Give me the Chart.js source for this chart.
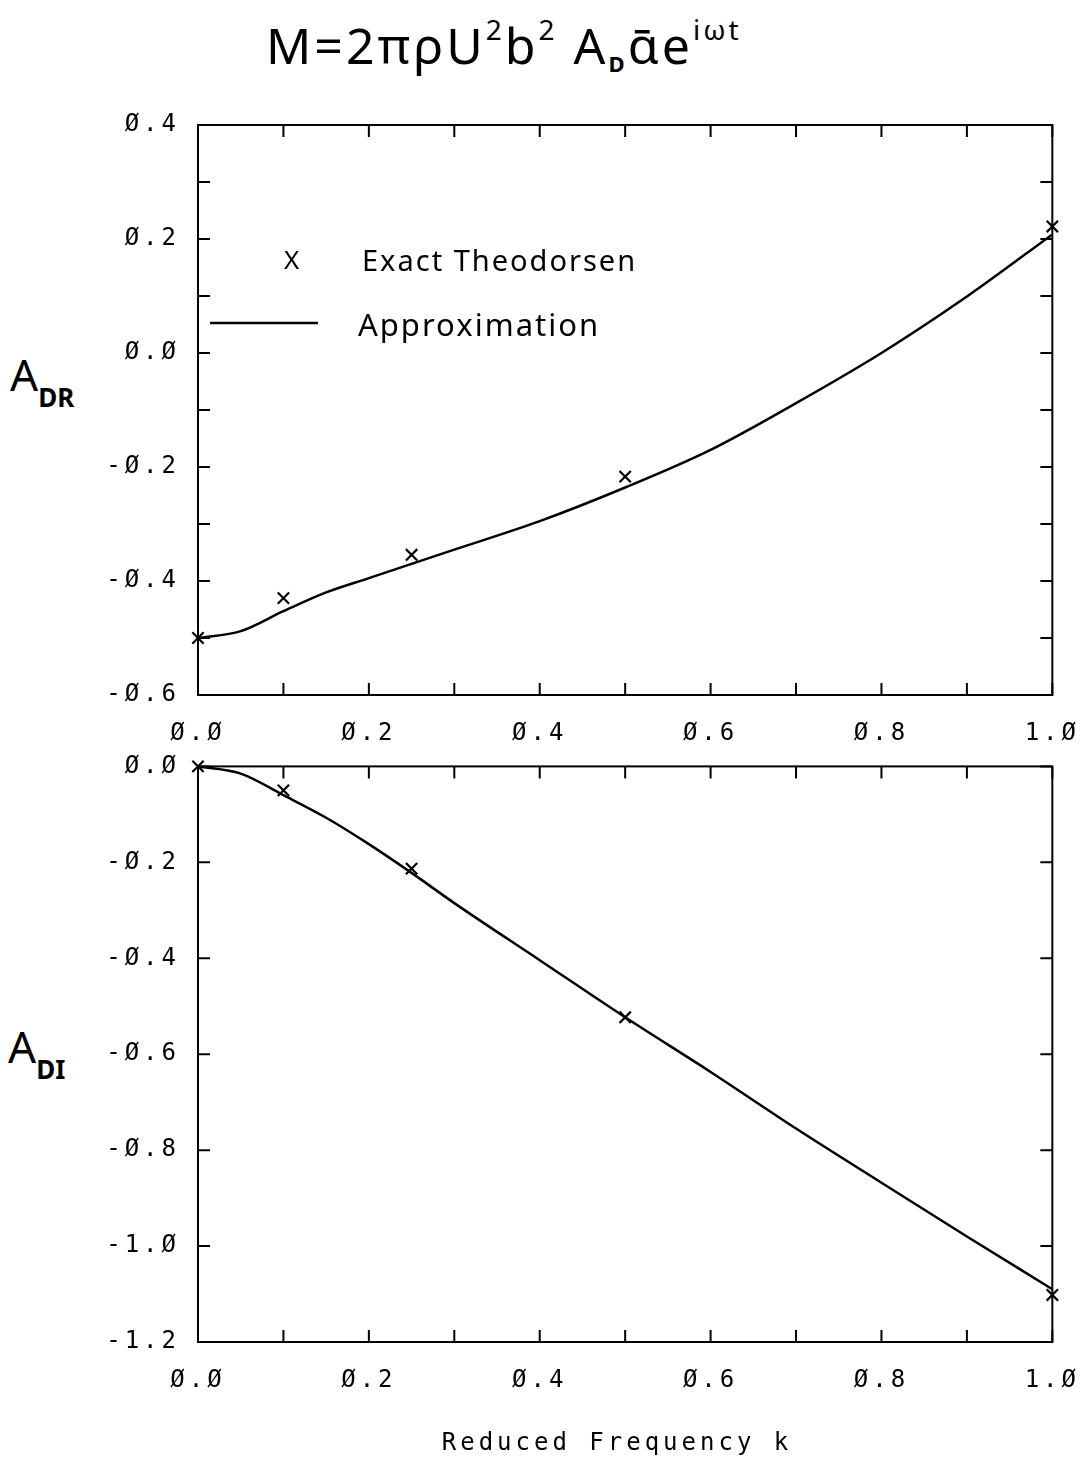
<!DOCTYPE html>
<html>
<head>
<meta charset="utf-8">
<script src="https://cdn.jsdelivr.net/npm/chart.js@4/dist/chart.umd.min.js"></script>
<style>
  body { margin: 0; background: #fff; }
  #page { position: relative; width: 1092px; height: 1463px; overflow: hidden; background: #fff; }
  canvas { position: absolute; left: 0; }
  .hand { position: absolute; font-family: "Noto Sans", sans-serif; color: #000; white-space: nowrap; }
  #title { left: 266px; top: 10px; font-size: 50px; letter-spacing: 3px; }
  #title sup { font-size: 28px; vertical-align: 24px; }
  #title sub { font-size: 22px; font-weight: bold; vertical-align: -8px; }
  .ylab { font-size: 44px; }
  .ylab sub { font-size: 26px; font-weight: bold; vertical-align: -16px; }
</style>
</head>
<body>
<div id="page">
  <div id="title" class="hand">M=2πρU<sup>2</sup>b<sup>2</sup> A<sub>D</sub>ᾱe<sup>iωt</sup></div>
  <div class="hand ylab" style="left:10px; top:344px;">A<sub>DR</sub></div>
  <div class="hand ylab" style="left:8px; top:1016px;">A<sub>DI</sub></div>
  <canvas id="topChart" width="1098" height="748" style="top:0px"></canvas>
  <canvas id="botChart" width="1098" height="729" style="top:734px"></canvas>
</div>
<script>
// reduced frequency k of the exact Theodorsen points
const kExact = [0, 0.1, 0.25, 0.5, 1.0];
const adrExact = [-0.5, -0.43, -0.354, -0.217, 0.222];
const adiExact = [0, -0.05, -0.213, -0.523, -1.102];

// approximation curve
const kApprox = [0, 0.05, 0.1, 0.15, 0.2, 0.25, 0.3, 0.4, 0.5, 0.6, 0.7, 0.8, 0.9, 1.0];
const adrApprox = [-0.5, -0.488, -0.453, -0.42, -0.395, -0.37, -0.345, -0.295, -0.236, -0.17, -0.088, 0.0, 0.099, 0.208];
const adiApprox = [0, -0.015, -0.06, -0.107, -0.162, -0.222, -0.285, -0.404, -0.523, -0.637, -0.755, -0.868, -0.98, -1.09];

const legendLabels = ["Exact Theodorsen", "Approximation"];
const xAxisTitle = "Reduced Frequency k";

const monoFont = "'DejaVu Sans Mono', monospace";

function plotterLabel(v) {
    return v.toFixed(1).replace(/0/g, "Ø");
}

function pairs(xs, ys) {
    return xs.map((x, i) => ({ x: x, y: ys[i] }));
}

// wide plotter-style spacing for all library text
const spacingPlugin = {
    id: "spacing",
    beforeDraw(chart) {
        chart.ctx.letterSpacing = "4px";
    }
};

// frame plus inward ticks on all four sides
const framePlugin = {
    id: "frame",
    afterDraw(chart) {
        const { ctx, chartArea: a } = chart;
        const xs = chart.scales.x, ys = chart.scales.y;
        const len = 12;
        ctx.save();
        ctx.strokeStyle = "#000";
        ctx.lineWidth = 2;
        ctx.strokeRect(a.left, a.top, a.right - a.left, a.bottom - a.top);
        ctx.beginPath();
        xs.ticks.forEach(t => {
            const px = xs.getPixelForValue(t.value);
            ctx.moveTo(px, a.bottom); ctx.lineTo(px, a.bottom - len);
            ctx.moveTo(px, a.top); ctx.lineTo(px, a.top + len);
        });
        ys.ticks.forEach(t => {
            const py = ys.getPixelForValue(t.value);
            ctx.moveTo(a.left, py); ctx.lineTo(a.left + len, py);
            ctx.moveTo(a.right, py); ctx.lineTo(a.right - len, py);
        });
        ctx.stroke();
        ctx.restore();
    }
};

const legendPlugin = {
    id: "handLegend",
    afterDraw(chart) {
        const ctx = chart.ctx;
        ctx.save();
        ctx.letterSpacing = "2px";
        ctx.fillStyle = "#000";
        ctx.strokeStyle = "#000";
        ctx.textBaseline = "alphabetic";
        ctx.font = "26px 'Noto Sans', sans-serif";
        ctx.fillText("X", 284, 269);
        ctx.font = "29px 'Noto Sans', sans-serif";
        ctx.fillText(legendLabels[0], 362, 271);
        ctx.lineWidth = 2.5;
        ctx.beginPath();
        ctx.moveTo(210, 323);
        ctx.lineTo(318, 323);
        ctx.stroke();
        ctx.font = "31px 'Noto Sans', sans-serif";
        ctx.fillText(legendLabels[1], 358, 336);
        ctx.restore();
    }
};

// x-axis caption, a bit left of centre as in the original plot
const captionPlugin = {
    id: "caption",
    afterDraw(chart) {
        const ctx = chart.ctx;
        const a = chart.chartArea;
        ctx.save();
        ctx.letterSpacing = "4px";
        ctx.fillStyle = "#000";
        ctx.font = "24px " + monoFont;
        ctx.textAlign = "center";
        ctx.textBaseline = "middle";
        ctx.fillText(xAxisTitle, 617, a.bottom + 102);
        ctx.restore();
    }
};

function makeChart(id, exactY, approxY, yMin, yMax, yStep, pad, xHeight, extra) {
    return new Chart(document.getElementById(id), {
        type: "line",
        data: {
            datasets: [
                {
                    label: legendLabels[0],
                    data: pairs(kExact, exactY),
                    showLine: false,
                    pointStyle: "crossRot",
                    pointRadius: 8,
                    pointBorderWidth: 2.2,
                    borderColor: "#000",
                    backgroundColor: "#000",
                    clip: false
                },
                {
                    label: legendLabels[1],
                    data: pairs(kApprox, approxY),
                    pointRadius: 0,
                    borderWidth: 2.5,
                    borderColor: "#000",
                    cubicInterpolationMode: "monotone",
                    fill: false
                }
            ]
        },
        options: {
            responsive: false,
            devicePixelRatio: 1,
            animation: false,
            layout: { padding: pad },
            plugins: { legend: { display: false }, tooltip: { enabled: false } },
            scales: {
                x: {
                    type: "linear",
                    min: 0,
                    max: 1,
                    grid: { display: false, drawTicks: false },
                    border: { display: false },
                    afterFit: s => { s.height = xHeight; },
                    ticks: {
                        stepSize: 0.1,
                        autoSkip: false,
                        maxRotation: 0,
                        padding: 24,
                        color: "#000",
                        font: { family: monoFont, size: 24 },
                        callback: v => (Math.round(v * 10) % 2 === 0 ? plotterLabel(v) : "")
                    }
                },
                y: {
                    min: yMin,
                    max: yMax,
                    grid: { display: false, drawTicks: false },
                    border: { display: false },
                    afterFit: s => { s.width = 198; },
                    ticks: {
                        stepSize: yStep,
                        autoSkip: false,
                        padding: 18,
                        color: "#000",
                        font: { family: monoFont, size: 24 },
                        callback: v => (Math.round(v * 10) % 2 === 0 ? plotterLabel(v) : "")
                    }
                }
            }
        },
        plugins: [spacingPlugin, framePlugin, extra]
    });
}

makeChart("topChart", adrExact, adrApprox, -0.6, 0.4, 0.1, { top: 125, right: 20, left: 0, bottom: 0 }, 53, legendPlugin);
makeChart("botChart", adiExact, adiApprox, -1.2, 0.0, 0.2, { top: 0, right: 20, left: 0, bottom: 41 }, 80, captionPlugin);
</script>
</body>
</html>
